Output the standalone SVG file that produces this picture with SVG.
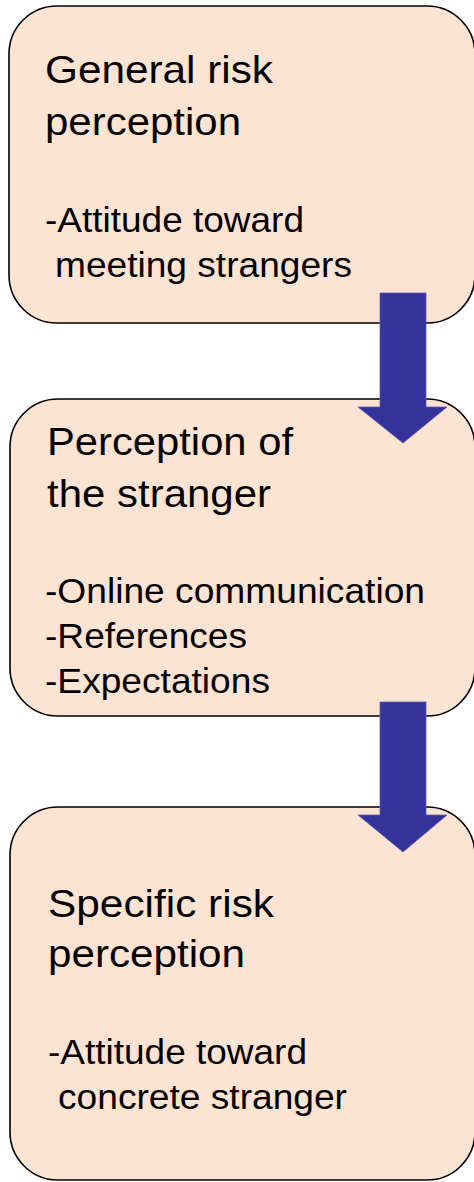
<svg xmlns="http://www.w3.org/2000/svg" width="474" height="1182" viewBox="0 0 474 1182">
<style>
.box{fill:#FDE3D2;stroke:#000;stroke-width:1.6}
.arr{fill:#333399;stroke:#5a5ac0;stroke-width:0.8}
.h{font-family:"Liberation Sans",Arial,sans-serif;font-size:39px;fill:#000}
.l{font-family:"Liberation Sans",Arial,sans-serif;font-size:35px;fill:#000}
</style>
<g id="node1">
<rect class="box" x="9" y="6" width="466" height="317" rx="48" ry="48"/>
<text class="h" x="45" y="83" textLength="228" lengthAdjust="spacingAndGlyphs">General risk</text>
<text class="h" x="45" y="135" textLength="196" lengthAdjust="spacingAndGlyphs">perception</text>
<text class="l" x="45" y="232" textLength="259" lengthAdjust="spacingAndGlyphs">-Attitude toward</text>
<text class="l" x="55" y="277" textLength="297" lengthAdjust="spacingAndGlyphs">meeting strangers</text>
</g>
<g id="node2">
<rect class="box" x="10" y="399" width="465" height="317" rx="48" ry="48"/>
<text class="h" x="47" y="455" textLength="246" lengthAdjust="spacingAndGlyphs">Perception of</text>
<text class="h" x="47" y="507" textLength="224" lengthAdjust="spacingAndGlyphs">the stranger</text>
<text class="l" x="45" y="603" textLength="380" lengthAdjust="spacingAndGlyphs">-Online communication</text>
<text class="l" x="45" y="648" textLength="202" lengthAdjust="spacingAndGlyphs">-References</text>
<text class="l" x="45" y="693" textLength="225" lengthAdjust="spacingAndGlyphs">-Expectations</text>
</g>
<g id="node3">
<rect class="box" x="10" y="807" width="465" height="373" rx="48" ry="48"/>
<text class="h" x="48" y="917" textLength="226" lengthAdjust="spacingAndGlyphs">Specific risk</text>
<text class="h" x="48" y="967" textLength="197" lengthAdjust="spacingAndGlyphs">perception</text>
<text class="l" x="48" y="1064" textLength="259" lengthAdjust="spacingAndGlyphs">-Attitude toward</text>
<text class="l" x="58" y="1109" textLength="289" lengthAdjust="spacingAndGlyphs">concrete stranger</text>
</g>
<g id="connectors">
<polygon class="arr" points="380,293 426,293 426,407 447,407 403,443 358,407 380,407"/>
<polygon class="arr" points="380,702 426,702 426,815 447,815 403,852 358,815 380,815"/>
</g>
</svg>
